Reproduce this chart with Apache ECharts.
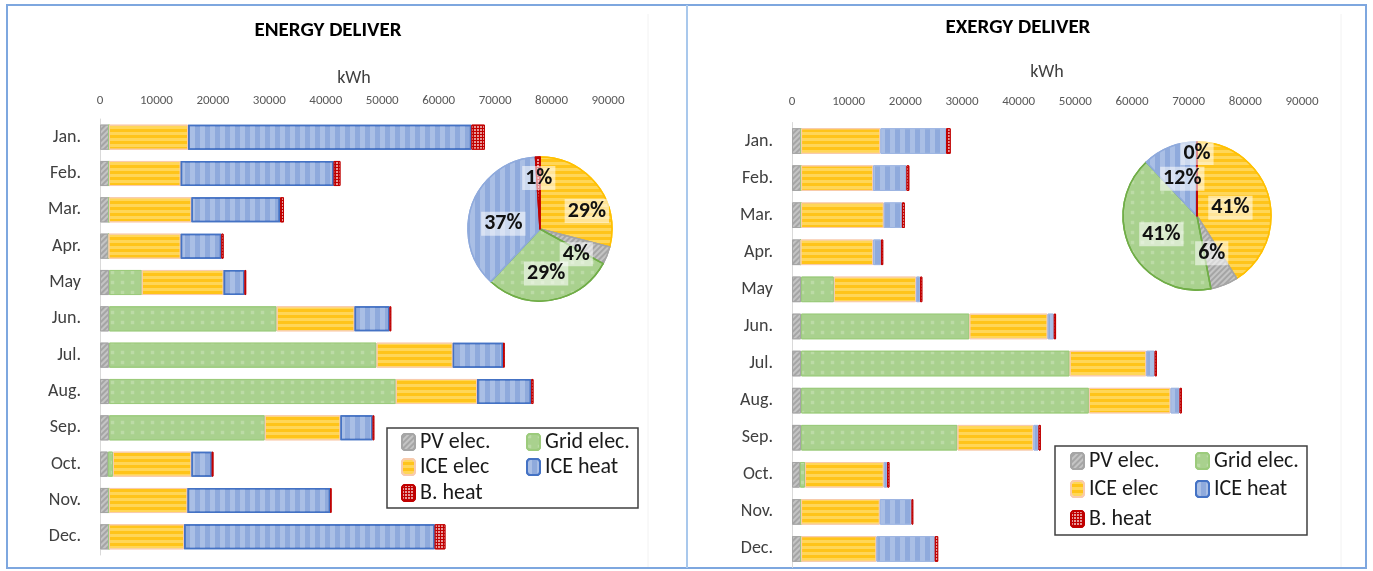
<!DOCTYPE html>
<html><head><meta charset="utf-8">
<script src="https://cdn.jsdelivr.net/npm/echarts@6/dist/echarts.min.js"></script>
<style>html,body{margin:0;padding:0;background:#fff}#c{width:1373px;height:571px}</style>
</head><body><div id="c"></div>
<script>
// ---- data ----
const months = ['Jan.','Feb.','Mar.','Apr.','May','Jun.','Jul.','Aug.','Sep.','Oct.','Nov.','Dec.'];
const seriesNames = ['PV elec.','Grid elec.','ICE elec','ICE heat','B. heat'];
const xTicks = [0,10000,20000,30000,40000,50000,60000,70000,80000,90000];
// Energy (kWh)
const pvElec      = [1600,1600,1600,1500,1600,1600,1600,1600,1600,1400,1600,1600];
const gridElec    = [0,0,0,0,5800,29700,47400,50800,27600,900,0,0];
const iceElec     = [14000,12700,14600,12800,14500,13800,13500,14400,13400,13900,13900,13300];
const iceHeatEnergy = [50200,27100,15700,7200,3700,6200,8900,9600,5700,3600,25300,44400];
const bHeatEnergy   = [2400,1200,700,400,300,300,300,400,300,300,200,1900];
// Exergy (kWh) – electricity identical, heat reduced
const iceHeatExergy = [11600,5900,3200,1400,700,1100,1500,1600,900,600,5600,10300];
const bHeatExergy   = [800,500,500,400,400,400,400,400,400,400,300,600];
// Pie shares (%)
const pieOrder = ['ICE elec','PV elec.','Grid elec.','ICE heat','B. heat'];
const pieEnergy = [29,4,29,37,1];
const pieExergy = [41,6,41,12,0];

// ---- styles ----
const FONT = 'Carlito, Lato, "Open Sans", sans-serif';
function styleFor(name, panel){
  const s = {
    'PV elec.':  {color:'#A5A5A5', borderColor:'#A5A5A5', borderWidth:1,
                  decal:{symbol:'rect', dashArrayX:[1,0], dashArrayY:[2,2], rotation:-Math.PI/4, color:'rgba(255,255,255,0.35)'}},
    'Grid elec.':{color:'#A9D18E', borderColor:'#9CCB7C', borderWidth:1,
                  decal:{symbol:'rect', symbolSize:0.7, dashArrayX:[5,5], dashArrayY:[5,5], color:'rgba(255,255,255,0.22)'}},
    'ICE elec':  {color:'#FFC41A', borderColor:'#F8CBAD', borderWidth:1,
                  decal:{symbol:'rect', dashArrayX:[1,0], dashArrayY:[3,3], color:'rgba(255,232,150,0.5)'}},
    'ICE heat':  {color:'#8FAADC', borderColor: panel===0 ? '#4472C4' : '#9DB5E2', borderWidth: panel===0 ? 1.5 : 1,
                  decal:{symbol:'rect', dashArrayX:[5,5], dashArrayY:[1,0], color:'rgba(220,230,247,0.35)'}},
    'B. heat':   {color:'#C00000', borderColor:'#C00000', borderWidth:1,
                  decal:{symbol:'rect', dashArrayX:[2,1], dashArrayY:[2,1], color:'rgba(255,255,255,0.6)'}}
  };
  return s[name];
}

const energyValues = {'PV elec.':pvElec,'Grid elec.':gridElec,'ICE elec':iceElec,'ICE heat':iceHeatEnergy,'B. heat':bHeatEnergy};
const exergyValues = {'PV elec.':pvElec,'Grid elec.':gridElec,'ICE elec':iceElec,'ICE heat':iceHeatExergy,'B. heat':bHeatExergy};

function xAxis(i, labelMargin, nameGap){
  return {type:'value', gridIndex:i, position:'top', min:xTicks[0], max:xTicks[xTicks.length-1], interval:xTicks[1]-xTicks[0],
    name:'kWh', nameLocation:'middle', nameGap:nameGap, nameTextStyle:{fontSize:18, color:'#404040', fontFamily:FONT},
    axisLine:{show:false}, axisTick:{show:false}, splitLine:{show:false},
    axisLabel:{fontSize:13, color:'#595959', margin:labelMargin, fontFamily:FONT, formatter: v => String(v)}};
}
function yAxis(i){
  return {type:'category', gridIndex:i, data:months, inverse:true,
    axisLine:{show:true, lineStyle:{color:'#D9D9D9', width:1}}, axisTick:{show:false},
    axisLabel:{fontSize:18, color:'#404040', margin:19, fontFamily:FONT}};
}
const series = [];
[energyValues, exergyValues].forEach((vals, i) => {
  seriesNames.forEach(n => {
    series.push({type:'bar', name:n, xAxisIndex:i, yAxisIndex:i, stack:'s'+i, barCategoryGap:'31%',
      data:vals[n], itemStyle:styleFor(n,i)});
  });
});
function pie(values, center, radius, tweaks, panel){
  return {type:'pie', center:center, radius:radius, startAngle:90, clockwise:true, avoidLabelOverlap:false,
    data: pieOrder.map((n,k)=>({name:n, value:values[k], itemStyle:Object.assign({}, styleFor(n,panel),
      {borderColor: {'ICE elec':'#FFC000','PV elec.':'#A5A5A5','Grid elec.':'#70AD47','ICE heat':'#8FAADC','B. heat':'#C00000'}[n], borderWidth:1.5})})),
    label:{show:true, position:'inside', formatter:'{c}%', fontSize:22, fontWeight:'bold', color:'#111', fontFamily:FONT,
      backgroundColor:'rgba(255,255,255,0.55)', padding:[1,3]},
    labelLine:{show:false}, emphasis:{disabled:true},
    labelLayout: p => tweaks[p.dataIndex] || {}
  };
}
series.push(pie(pieEnergy, [540,229], 72, {0:{dx:16,dy:6}, 1:{dy:11}, 4:{dy:-12}, 2:{dy:6}, 3:{dy:8}}, 0));
series.push(pie(pieExergy, [1197,216], 74, {4:{dy:-23}, 0:{dx:-5,dy:3}}, 1));

function leg(name, x, yc){
  return {data:[name], left:x, top:yc-13, padding:0, itemWidth:13, itemHeight:16, itemGap:0, selectedMode:false,
    textStyle:{fontSize:22, color:'#1a1a1a', fontFamily:FONT}};
}
const legends = [
  leg('PV elec.',401,444), leg('Grid elec.',526,444), leg('ICE elec',401,469), leg('ICE heat',526,469), leg('B. heat',401,495),
  leg('PV elec.',1070,463), leg('Grid elec.',1195,463), leg('ICE elec',1070,491), leg('ICE heat',1195,491), leg('B. heat',1070,521)
];

const option = {
  animation:false,
  textStyle:{fontFamily:FONT},
  graphic:[
    {type:'line', shape:{x1:648,y1:14,x2:648,y2:567}, style:{stroke:'#F2F2F2', lineWidth:1}, z:0},
    {type:'line', shape:{x1:1341,y1:14,x2:1341,y2:567}, style:{stroke:'#F2F2F2', lineWidth:1}, z:0},
    {type:'rect', shape:{x:7,y:5,width:1359,height:563}, style:{fill:'none', stroke:'#7EA7DF', lineWidth:2}, z:0},
    {type:'line', shape:{x1:687,y1:5,x2:687,y2:568}, style:{stroke:'#A9C8EC', lineWidth:2}, z:0},
    {type:'text', x:328, y:31, style:{text:'ENERGY DELIVER', font:'bold 21px '+FONT, fill:'#000', textAlign:'center', textVerticalAlign:'middle'}},
    {type:'text', x:1018, y:28, style:{text:'EXERGY DELIVER', font:'bold 21px '+FONT, fill:'#000', textAlign:'center', textVerticalAlign:'middle'}},
    {type:'rect', shape:{x:387,y:428,width:251,height:80}, style:{fill:'none', stroke:'#404040', lineWidth:1.5}, z:0},
    {type:'rect', shape:{x:1055,y:446,width:252,height:89}, style:{fill:'none', stroke:'#404040', lineWidth:1.5}, z:0}
  ],
  grid:[{left:100, top:119, width:508, height:436},{left:792, top:122.5, width:510, height:445}],
  xAxis:[xAxis(0,12,32), xAxis(1,14,41)],
  yAxis:[yAxis(0), yAxis(1)],
  legend:legends,
  series:series
};
const chart = echarts.init(document.getElementById('c'), null, {renderer:'canvas'});
chart.setOption(option);
</script></body></html>
